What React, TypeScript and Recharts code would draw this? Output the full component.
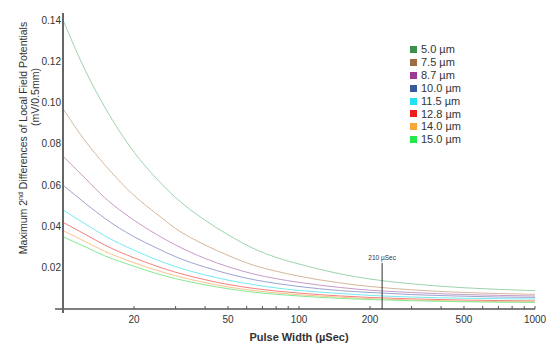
import { LineChart, Line, XAxis, YAxis, ReferenceLine, Legend } from 'recharts'

const FONT = '"Liberation Sans", Arial, sans-serif'

// pulse width (µSec)
const pulseWidths = [10, 12.5, 15, 20, 25, 30, 40, 50, 65, 80, 100, 150, 200, 300, 500, 700, 1000]

const fiber50 = [0.140, 0.115, 0.098, 0.076, 0.063, 0.054, 0.043, 0.036, 0.029, 0.025, 0.0218, 0.017, 0.0145, 0.0122, 0.0103, 0.0095, 0.0089]
const fiber75 = [0.097, 0.081, 0.070, 0.055, 0.046, 0.039, 0.031, 0.026, 0.021, 0.0183, 0.0159, 0.0126, 0.0109, 0.0093, 0.008, 0.0075, 0.0071]
const fiber87 = [0.074, 0.063, 0.054, 0.043, 0.036, 0.031, 0.0245, 0.0205, 0.0168, 0.0147, 0.0129, 0.0104, 0.0091, 0.008, 0.007, 0.0066, 0.0063]
const fiber100 = [0.060, 0.051, 0.044, 0.035, 0.0295, 0.0253, 0.0203, 0.0171, 0.0141, 0.0124, 0.0109, 0.0089, 0.008, 0.007, 0.0062, 0.0058, 0.0056]
const fiber115 = [0.048, 0.041, 0.0355, 0.0285, 0.0238, 0.0205, 0.0165, 0.014, 0.0117, 0.0102, 0.009, 0.0075, 0.0066, 0.0058, 0.0052, 0.005, 0.0048]
const fiber128 = [0.042, 0.036, 0.031, 0.0248, 0.0207, 0.0178, 0.0142, 0.0119, 0.0099, 0.0087, 0.0077, 0.0063, 0.0056, 0.0049, 0.0043, 0.0041, 0.0039]
const fiber140 = [0.038, 0.0325, 0.028, 0.0224, 0.0187, 0.0161, 0.0128, 0.0107, 0.0089, 0.0078, 0.0069, 0.0057, 0.005, 0.0044, 0.0038, 0.0036, 0.0035]
const fiber150 = [0.035, 0.030, 0.0258, 0.0207, 0.0171, 0.0147, 0.0117, 0.0098, 0.0081, 0.0071, 0.0063, 0.0051, 0.0046, 0.004, 0.0035, 0.0033, 0.0032]

const seriesNames = ['5.0 µm', '7.5 µm', '8.7 µm', '10.0 µm', '11.5 µm', '12.8 µm', '14.0 µm', '15.0 µm']
const allSeries = [fiber50, fiber75, fiber87, fiber100, fiber115, fiber128, fiber140, fiber150]
const legendColors = ['#3c8f4c', '#9c6c44', '#9a3a94', '#3a5a9c', '#22e2ee', '#f01c1c', '#f8a838', '#22e84c']
const lineColors = ['#9cd4ac', '#d4b89c', '#c89cc8', '#9ca4d0', '#74eaf2', '#f48080', '#f8c48c', '#84ea94']

const xTicks = [20, 30, 40, 50, 60, 70, 80, 90, 100, 200, 300, 400, 500, 600, 700, 800, 900, 1000]
const xLabeled = [20, 50, 100, 200, 500, 1000]
const yTicks = [0.02, 0.04, 0.06, 0.08, 0.1, 0.12, 0.14]

const rows = pulseWidths.map((x, i) => {
  const row: Record<string, number> = { x }
  allSeries.forEach((s, k) => {
    row['s' + k] = s[i]
  })
  return row
})

function XTick(props: any) {
  const { x, y, payload } = props
  const v = payload.value
  return (
    <g>
      <line x1={x} x2={x} y1={y} y2={y - 3} stroke="#555" strokeWidth={1} />
      {xLabeled.includes(v) && (
        <text x={x} y={y + 14} textAnchor="middle" fontSize={10} fill="#333" fontFamily={FONT}>
          {v}
        </text>
      )}
    </g>
  )
}

function LegendBox() {
  return (
    <div style={{ fontFamily: FONT, fontSize: 11, color: '#333', lineHeight: '12.9px' }}>
      {seriesNames.map((n, i) => (
        <div key={n} style={{ display: 'flex', alignItems: 'center' }}>
          <span style={{ width: 7, height: 7, background: legendColors[i], marginRight: 4, display: 'inline-block' }} />
          <span>{n}</span>
        </div>
      ))}
    </div>
  )
}

function YLabel() {
  return (
    <g fontFamily={FONT} fontSize={10.5} fill="#333">
      <text transform="translate(27,138) rotate(-90)" textAnchor="middle">
        Maximum 2
        <tspan fontSize={7} dy={-4}>nd</tspan>
        <tspan dy={4}> Differences of Local Field Potentials</tspan>
      </text>
      <text transform="translate(39,97) rotate(-90)" textAnchor="middle">
        (mV/0.5mm)
      </text>
    </g>
  )
}

export default function App() {
  return (
    <div style={{ position: 'absolute', left: 0, top: 0, background: '#fff' }}>
      <LineChart width={547} height={345} data={rows} margin={{ top: 13, right: 12, bottom: 6, left: 0 }}>
        <XAxis
          dataKey="x"
          type="number"
          scale="log"
          domain={[10, 1000]}
          ticks={xTicks}
          tick={<XTick />}
          tickSize={0}
          tickMargin={0}
          axisLine={false}
          tickLine={false}
          height={30}
          allowDataOverflow
          interval={0}
          label={{ value: 'Pulse Width (µSec)', position: 'insideBottom', offset: -2, fontSize: 11, fontWeight: 'bold', fill: '#333', fontFamily: FONT }}
        />
        <YAxis
          type="number"
          domain={[0, 0.1434]}
          ticks={yTicks}
          width={63}
          tickSize={0}
          tickMargin={2}
          axisLine={false}
          tickLine={false}
          allowDataOverflow
          tickFormatter={(v: number) => v.toFixed(2)}
          tick={{ fontSize: 10, fill: '#333', fontFamily: FONT }}
          label={<YLabel />}
        />
        {allSeries.map((_, k) => (
          <Line
            key={k}
            dataKey={'s' + k}
            name={seriesNames[k]}
            type="monotone"
            stroke={lineColors[k]}
            strokeWidth={1}
            dot={false}
            isAnimationActive={false}
          />
        ))}
        <ReferenceLine
          segment={[{ x: 9.25, y: 0 }, { x: 1000, y: 0 }]}
          stroke="#555"
          strokeWidth={1.5}
          ifOverflow="visible"
        />
        <ReferenceLine
          segment={[{ x: 10, y: -0.0019 }, { x: 10, y: 0.1434 }]}
          stroke="#666"
          strokeWidth={2}
          ifOverflow="visible"
        />
        <ReferenceLine
          segment={[{ x: 225, y: 0 }, { x: 225, y: 0.0223 }]}
          stroke="#333"
          strokeWidth={1}
          ifOverflow="visible"
          label={{ value: '210 µSec', position: 'top', offset: 3, fontSize: 6.5, fill: '#333', fontFamily: FONT }}
        />
        <Legend
          layout="vertical"
          align="center"
          verticalAlign="middle"
          content={<LegendBox />}
          wrapperStyle={{ position: 'absolute', left: 410, top: 43, width: 80, height: 105 }}
        />
      </LineChart>
    </div>
  )
}
